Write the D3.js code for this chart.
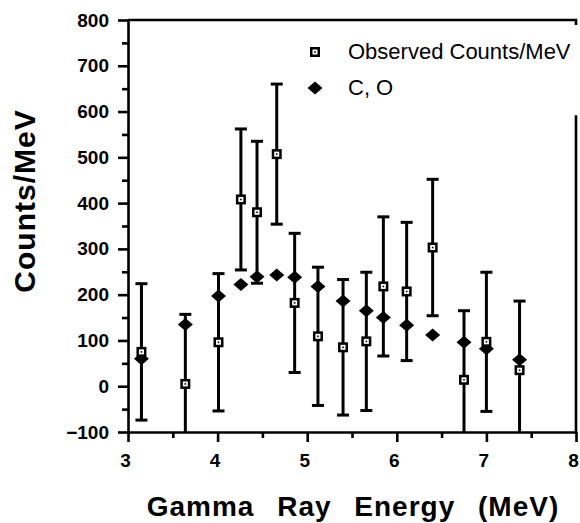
<!DOCTYPE html>
<html>
<head>
<meta charset="utf-8">
<script src="https://cdn.jsdelivr.net/npm/d3@7/dist/d3.min.js"></script>
<style>
  body { margin: 0; background: #fff; }
  text { font-family: "Liberation Sans", Arial, sans-serif; fill: #000; }
</style>
</head>
<body>
<div class="chart"></div>
<script>
// gamma ray lines, observed counts with 1 sigma errors and the C,O model
const energy   = [3.15, 3.64, 4.01, 4.26, 4.44, 4.66, 4.86, 5.12, 5.40, 5.66, 5.85, 6.11, 6.40, 6.75, 7.00, 7.37];
const observed = [75, 5, 96, 408, 380, 507, 182, 109, 85, 98, 218, 207, 303, 14, 97, 35];
const obsError = [149, 152, 150, 154, 155, 153, 152, 151, 148, 151, 152, 151, 149, 151, 152, 151];
const coModel  = [60, 135, 197, 222, 239, 243, 238, 218, 186, 165, 150, 133, 112, 96, 82, 58];

const xTicks = [3, 4, 5, 6, 7, 8];
const yTicks = [-100, 0, 100, 200, 300, 400, 500, 600, 700, 800];

const W = 580, H = 523;
const margin = { top: 20, right: 4, bottom: 91, left: 128 };

const svg = d3.select('.chart')
  .append('svg')
  .attr('width', W)
  .attr('height', H);

const x = d3.scaleLinear().domain([3, 8]).range([margin.left, W - margin.right]);
const y = d3.scaleLinear().domain([-100, 800]).range([H - margin.bottom, margin.top]);

const ink = 2.6;

svg.append('defs').append('clipPath').attr('id', 'plot')
  .append('rect')
  .attr('x', x(3)).attr('y', y(800))
  .attr('width', x(8) - x(3)).attr('height', y(-100) - y(800));

// minor ticks first, then the labelled axes
svg.append('g')
  .attr('transform', `translate(${x(3)},0)`)
  .call(d3.axisLeft(y).tickValues(d3.range(-50, 800, 100)).tickSize(6).tickFormat(''))
  .call(g => g.select('.domain').remove())
  .selectAll('line').attr('stroke-width', ink);

svg.append('g')
  .attr('transform', `translate(0,${y(-100)})`)
  .call(d3.axisBottom(x).tickValues(d3.range(3.5, 8, 1)).tickSize(6).tickFormat(''))
  .call(g => g.select('.domain').remove())
  .selectAll('line').attr('stroke-width', ink);

const yAxis = svg.append('g')
  .attr('transform', `translate(${x(3)},0)`)
  .call(d3.axisLeft(y).tickValues(yTicks).tickSize(10).tickSizeOuter(0).tickPadding(9));

const xAxis = svg.append('g')
  .attr('transform', `translate(0,${y(-100)})`)
  .call(d3.axisBottom(x).tickValues(xTicks).tickFormat(d3.format('d'))
    .tickSize(10).tickSizeOuter(0).tickPadding(10));

[yAxis, xAxis].forEach(g => {
  g.select('.domain').attr('stroke-width', ink);
  g.selectAll('line').attr('stroke-width', ink);
  g.selectAll('text')
    .style('font-family', '"Liberation Sans", Arial, sans-serif')
    .style('font-weight', 'bold')
    .style('font-size', '19px')
    .attr('fill', '#000');
});
xAxis.selectAll('text').attr('dy', '0.8em').attr('x', -3);

// top frame with small hook, right frame below the legend
svg.append('path')
  .attr('d', `M${x(3)},${y(800)}H${x(8)}V${y(800) + 5}`)
  .attr('fill', 'none').attr('stroke', '#000').attr('stroke-width', ink);
svg.append('line')
  .attr('x1', x(8)).attr('x2', x(8))
  .attr('y1', y(592)).attr('y2', y(-100))
  .attr('stroke', '#000').attr('stroke-width', ink);

const pts = energy.map((e, i) => ({ e, obs: observed[i], err: obsError[i], co: coModel[i] }));

const plot = svg.append('g').attr('clip-path', 'url(#plot)');

const diamond = s => `M0,${-s}L${s + 1},0L0,${s}L${-s - 1},0Z`;

// C, O model points
plot.selectAll('.co')
  .data(pts)
  .join('path')
  .attr('class', 'co')
  .attr('transform', d => `translate(${x(d.e)},${y(d.co)})`)
  .attr('d', diamond(6.5))
  .attr('fill', '#000');

// error bars
const bars = plot.selectAll('.bar')
  .data(pts)
  .join('g')
  .attr('class', 'bar')
  .attr('stroke', '#000')
  .attr('stroke-width', 3);

bars.append('line')
  .attr('x1', d => x(d.e)).attr('x2', d => x(d.e))
  .attr('y1', d => y(d.obs + d.err)).attr('y2', d => y(d.obs - d.err));
bars.append('line')
  .attr('x1', d => x(d.e) - 6).attr('x2', d => x(d.e) + 6)
  .attr('y1', d => y(d.obs + d.err)).attr('y2', d => y(d.obs + d.err));
bars.append('line')
  .attr('x1', d => x(d.e) - 6).attr('x2', d => x(d.e) + 6)
  .attr('y1', d => y(d.obs - d.err)).attr('y2', d => y(d.obs - d.err));

function square(g) {
  g.append('rect').attr('x', -5).attr('y', -5).attr('width', 10).attr('height', 10).attr('fill', '#000');
  g.append('rect').attr('x', -2.5).attr('y', -2.5).attr('width', 5).attr('height', 5).attr('fill', '#fff');
  g.append('rect').attr('x', -0.8).attr('y', -0.8).attr('width', 1.6).attr('height', 1.6).attr('fill', '#000');
}

plot.selectAll('.obs')
  .data(pts)
  .join('g')
  .attr('class', 'obs')
  .attr('transform', d => `translate(${x(d.e)},${y(d.obs)})`)
  .each(function () { square(d3.select(this)); });

// legend
const legend = svg.append('g');
legend.append('g').attr('transform', 'translate(315,52)').call(square);
legend.append('text').attr('x', 348).attr('y', 59).style('font-size', '22px').text('Observed Counts/MeV');
legend.append('path').attr('transform', 'translate(315,88)').attr('d', diamond(6.5)).attr('fill', '#000');
legend.append('text').attr('x', 348).attr('y', 95).style('font-size', '22px').text('C, O');

// axis titles
svg.append('text')
  .attr('transform', 'translate(35,201) rotate(-90)')
  .attr('text-anchor', 'middle')
  .style('font-weight', 'bold')
  .style('font-size', '30px')
  .style('letter-spacing', '1px')
  .text('Counts/MeV');

svg.append('text')
  .attr('x', 353)
  .attr('y', 516)
  .attr('text-anchor', 'middle')
  .style('font-weight', 'bold')
  .style('font-size', '28px')
  .style('letter-spacing', '1px')
  .style('word-spacing', '14px')
  .text('Gamma Ray Energy (MeV)');
</script>
</body>
</html>
